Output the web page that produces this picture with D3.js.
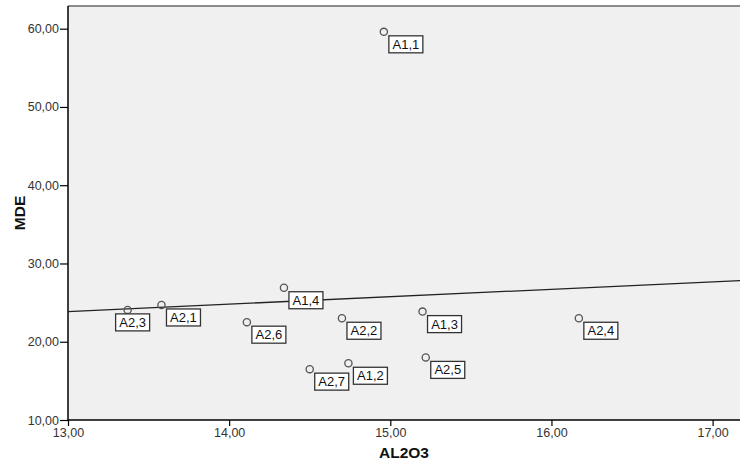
<!DOCTYPE html>
<html>
<head>
<meta charset="utf-8">
<script src="https://cdn.jsdelivr.net/npm/d3@7"></script>
<style>
  html, body { margin: 0; padding: 0; background: #ffffff; }
  svg { display: block; }
  text { font-family: Arial, "Liberation Sans", sans-serif; }
</style>
</head>
<body>
<div id="chart"></div>
<script>
// ---- data ----
const labels = ["A1,1", "A1,2", "A1,3", "A1,4", "A2,1", "A2,2", "A2,3", "A2,4", "A2,5", "A2,6", "A2,7"];
const al2o3  = [14.96, 14.74, 15.20, 14.34, 13.58, 14.70, 13.37, 16.17, 15.22, 14.11, 14.50];
const mde    = [59.6, 17.25, 23.85, 26.9, 24.7, 23.0, 24.07, 23.0, 18.0, 22.5, 16.5];
const xTicks = [13, 14, 15, 16, 17];
const yTicks = [10, 20, 30, 40, 50, 60];
const xTitle = "AL2O3";
const yTitle = "MDE";

// ---- layout ----
const W = 740, H = 466;
const plot = { left: 68, right: 740, top: 6, bottom: 420 };

const svg = d3.select("#chart").append("svg")
  .attr("width", W).attr("height", H);

const x = d3.scaleLinear().domain([13, 17.17]).range([plot.left, plot.right]);
const y = d3.scaleLinear().domain([10, 62.9]).range([plot.bottom, plot.top]);

const fmt = v => d3.format(".2f")(v).replace(".", ",");

// plot background
svg.append("rect")
  .attr("x", plot.left).attr("y", plot.top)
  .attr("width", plot.right - plot.left).attr("height", plot.bottom - plot.top)
  .attr("fill", "#f0f0f0");
svg.append("line")
  .attr("x1", plot.left).attr("x2", plot.right)
  .attr("y1", plot.top).attr("y2", plot.top)
  .attr("stroke", "#8c8c8c").attr("stroke-width", 2);

// axes
const xAxis = d3.axisBottom(x).tickValues(xTicks).tickFormat(fmt).tickSizeInner(6).tickSizeOuter(0).tickPadding(2);
const yAxis = d3.axisLeft(y).tickValues(yTicks).tickFormat(fmt).tickSizeInner(8).tickSizeOuter(0).tickPadding(1);

const gx = svg.append("g").attr("transform", `translate(0,${plot.bottom})`).call(xAxis);
const gy = svg.append("g").attr("transform", `translate(${plot.left},0)`).call(yAxis);
[gx, gy].forEach(g => {
  g.select(".domain").attr("stroke", "#000").attr("stroke-width", 1.5);
  g.selectAll(".tick line").attr("stroke", "#000").attr("stroke-width", 1.2);
  g.selectAll(".tick text").attr("fill", "#333").style("font-size", "12.5px")
    .style("font-family", "Arial, 'Liberation Sans', sans-serif");
});
gx.select(".domain").attr("d", `M${plot.left},0H${plot.right}`);
gy.select(".domain").attr("d", `M0,${plot.top}V${plot.bottom}`);

// axis titles
svg.append("text")
  .attr("x", (plot.left + plot.right) / 2).attr("y", 458)
  .attr("text-anchor", "middle")
  .style("font-size", "15.5px").style("font-weight", "bold").attr("fill", "#111")
  .text(xTitle);
svg.append("text")
  .attr("transform", `translate(25,${(plot.top + plot.bottom) / 2}) rotate(-90)`)
  .attr("text-anchor", "middle")
  .style("font-size", "15.5px").style("font-weight", "bold").attr("fill", "#111")
  .text(yTitle);

// fit line (least squares)
const n = al2o3.length;
const mx = d3.mean(al2o3), my = d3.mean(mde);
let sxy = 0, sxx = 0;
for (let i = 0; i < n; i++) { sxy += (al2o3[i] - mx) * (mde[i] - my); sxx += (al2o3[i] - mx) ** 2; }
const slope = sxy / sxx, intercept = my - slope * mx;
const [d0, d1] = x.domain();
svg.append("line")
  .attr("x1", x(d0)).attr("y1", y(intercept + slope * d0))
  .attr("x2", x(d1)).attr("y2", y(intercept + slope * d1))
  .attr("stroke", "#222").attr("stroke-width", 1.3);

// points
const pts = labels.map((l, i) => ({ label: l, x: al2o3[i], y: mde[i] }));
svg.append("g").selectAll("circle").data(pts).join("circle")
  .attr("cx", d => x(d.x)).attr("cy", d => y(d.y)).attr("r", 3.6)
  .attr("fill", "none").attr("stroke", "#555").attr("stroke-width", 1.3);

// point labels
const leftLabels = new Set(["A2,3"]);
const lg = svg.append("g").selectAll("g").data(pts).join("g")
  .attr("transform", d => {
    const bx = leftLabels.has(d.label) ? x(d.x) - 12 : x(d.x) + 5;
    const by = y(d.y) + 4;
    return `translate(${bx},${by})`;
  });
lg.append("rect")
  .attr("width", 34).attr("height", 17)
  .attr("fill", "#fff").attr("stroke", "#333").attr("stroke-width", 1.3);
lg.append("text")
  .attr("x", 17).attr("y", 13).attr("text-anchor", "middle")
  .style("font-size", "13px").attr("fill", "#111")
  .text(d => d.label);
</script>
</body>
</html>
